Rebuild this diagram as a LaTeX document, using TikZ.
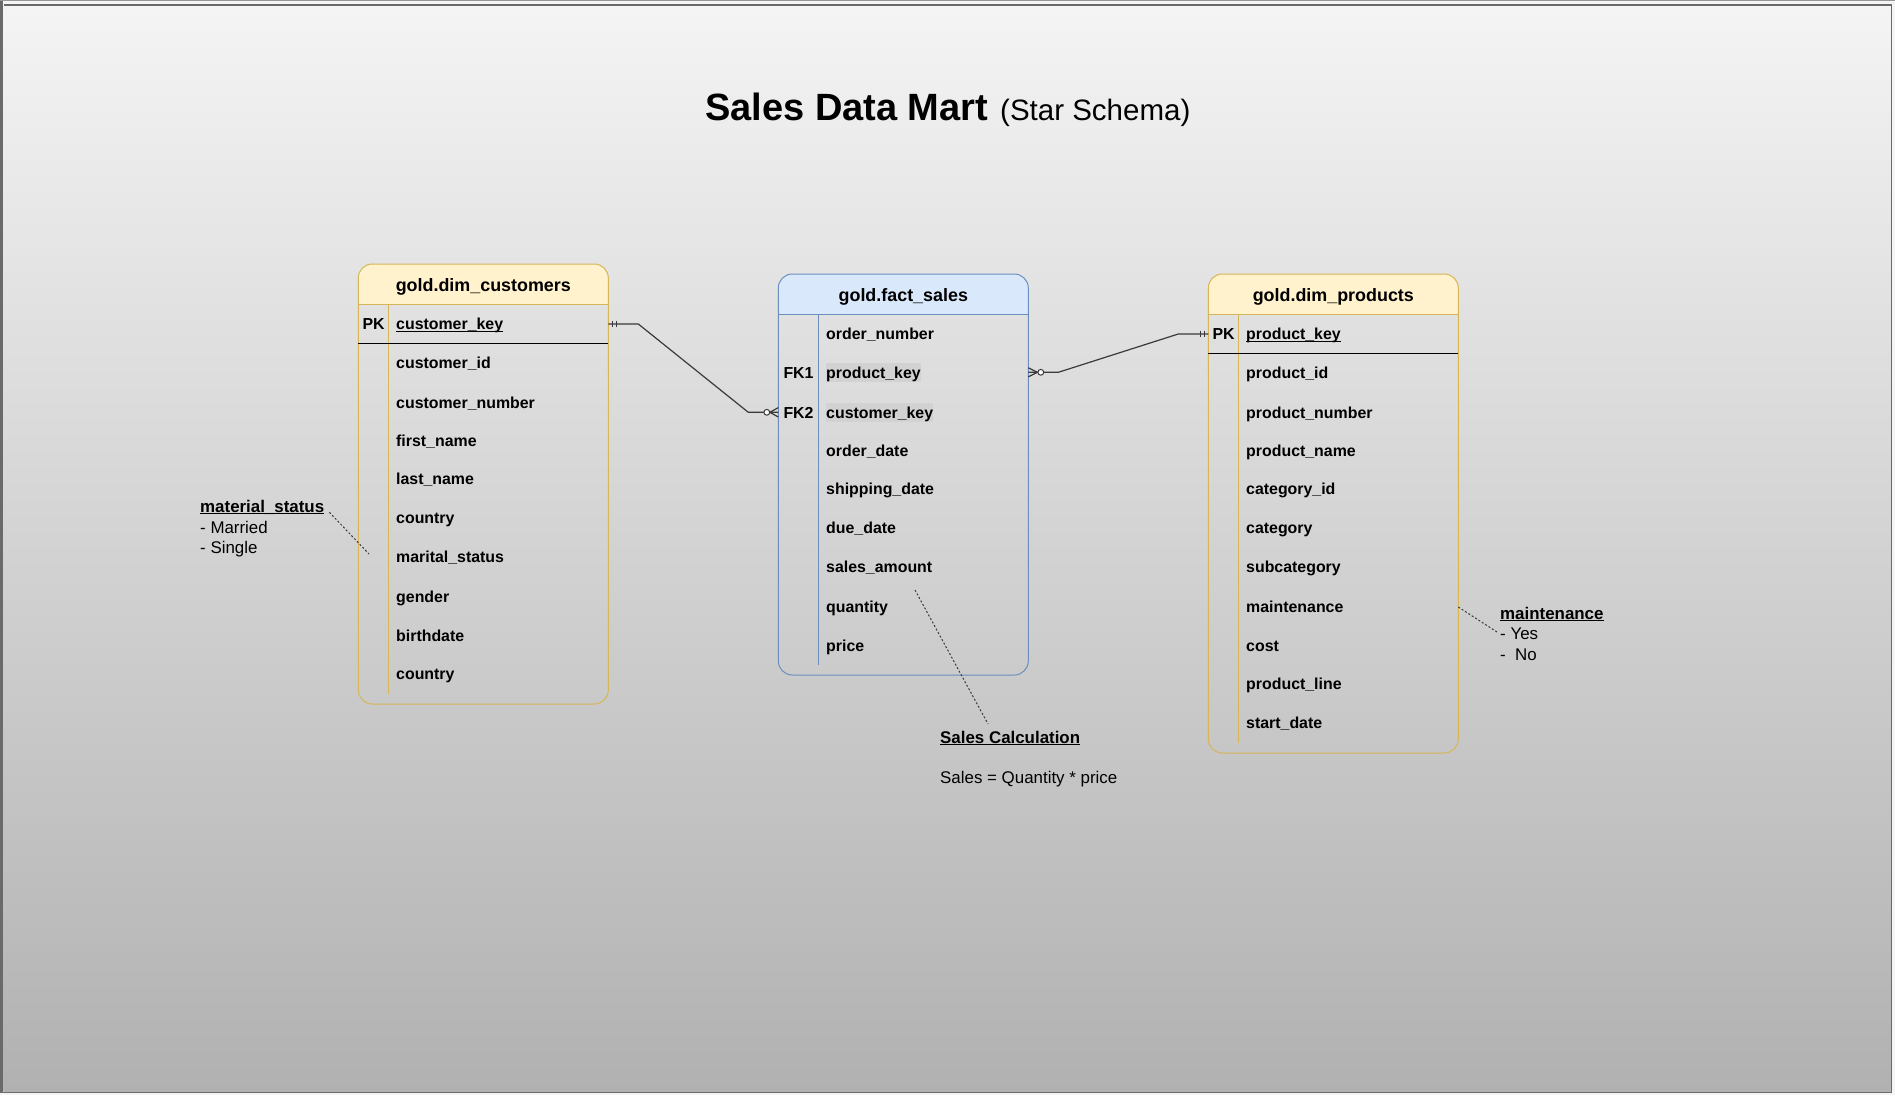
\documentclass[tikz,border=0pt]{standalone}
\usepackage{fontspec}
\setmainfont{Liberation Sans}
\usetikzlibrary{calc}
\definecolor{ybord}{HTML}{D6B656}
\definecolor{yfill}{HTML}{FFF2CC}
\definecolor{bbord}{HTML}{6C8EBF}
\definecolor{bfill}{HTML}{DAE8FC}
\definecolor{hlgray}{HTML}{D2D2D2}
\definecolor{conncol}{HTML}{3A3A3A}
\definecolor{bgtop}{HTML}{F4F4F4}
\definecolor{bgbot}{HTML}{B1B1B1}
\definecolor{frameg}{HTML}{6A6A6A}
\newcommand\ulin[1]{\setbox0\hbox{#1}\rlap{\rule[-1.8pt]{\wd0}{1pt}}\box0}
\tikzset{
  field/.style={anchor=base west, inner sep=0pt, font={\fontsize{15.9}{19}\selectfont\bfseries}, text=black},
  hlfield/.style={field, fill=hlgray, text height=14.7pt, text depth=3.7pt},
  hdrtext/.style={anchor=base, inner sep=0pt, font={\fontsize{17.9}{21}\selectfont\bfseries}, text=black},
  notetext/.style={anchor=base west, inner sep=0pt, font={\fontsize{16.9}{20}\selectfont}, text=black},
  notebold/.style={notetext, font={\fontsize{16.9}{20}\selectfont\bfseries}},
  tbl/.style={draw, line width=1pt, rounded corners=14pt, minimum width=250pt, inner sep=0pt, outer sep=0pt},
  connline/.style={draw=conncol, line width=1.2pt},
  dotline/.style={draw=conncol, line width=1pt, dash pattern=on 2pt off 2pt},
  sepline/.style={draw=black, line width=1pt}
}
\begin{document}
\begin{tikzpicture}[x=1pt,y=-1pt]
\useasboundingbox (0,0) rectangle (1895,1095);
% background and frame
\fill[white!96!black] (0,0) rectangle (1895,1095);
\shade[top color=bgtop, bottom color=bgbot] (3.7,5.7) rectangle (1891,1091.7);
\fill[frameg] (0,0) rectangle (2.7,1093);
\fill[frameg] (3.7,4.4) rectangle (1892.3,5.7);
\fill[frameg] (1891,4.4) rectangle (1892.3,1093);
\fill[frameg] (2.7,1091.7) rectangle (1892.3,1093);
\fill[frameg!70] (0,0) rectangle (1895,1);

% title
\node[anchor=base west, inner sep=0pt, font={\fontsize{38}{44}\selectfont\bfseries}] (title) at (705,120) {Sales Data Mart};
\node[anchor=base west, inner sep=0pt, font={\fontsize{29.5}{34}\selectfont}] (subtitle) at (1000,120) {(Star Schema)};

% ---------- customers table ----------
\fill[yfill, rounded corners=14pt] (358.3,304.3) -- (358.3,264) -- (608.3,264) -- (608.3,304.3);
\node[tbl, draw=ybord, minimum height=440pt] (cust) at (483.3,484) {};
\draw[ybord, line width=1pt] (358.3,304.3) -- (608.3,304.3);
\draw[ybord, line width=1pt] (388.3,304.3) -- (388.3,694);
\draw[sepline] (358.3,343.3) -- (608.3,343.3);
\node[hdrtext] (custhdr) at (483.3,291.4) {gold.dim\_customers};
\node[field] (cpk) at (362.3,329.7) {PK};
\node[field] (c1) at (396,329.7) {\ulin{customer\_key}};
\node[field] (c2) at (396,368) {customer\_id};
\node[field] (c3) at (396,408) {customer\_number};
\node[field] (c4) at (396,446.7) {first\_name};
\node[field] (c5) at (396,484.7) {last\_name};
\node[field] (c6) at (396,523.7) {country};
\node[field] (c7) at (396,562.7) {marital\_status};
\node[field] (c8) at (396,602.7) {gender};
\node[field] (c9) at (396,641.7) {birthdate};
\node[field] (c10) at (396,679.7) {country};

% ---------- fact table ----------
\fill[bfill, rounded corners=14pt] (778.3,314.3) -- (778.3,274) -- (1028.3,274) -- (1028.3,314.3);
\node[tbl, draw=bbord, minimum height=401pt] (fact) at (903.3,474.5) {};
\draw[bbord, line width=1pt] (778.3,314.3) -- (1028.3,314.3);
\draw[bbord, line width=1pt] (818.3,314.3) -- (818.3,665);
\node[hdrtext] (facthdr) at (903.3,301.4) {gold.fact\_sales};
\node[field] (f1) at (826,339.7) {order\_number};
\node[field] (ffk1) at (783.3,378) {FK1};
\node[hlfield] (f2) at (826,378) {product\_key};
\node[field] (ffk2) at (783.3,418) {FK2};
\node[hlfield] (f3) at (826,418) {customer\_key};
\node[field] (f4) at (826,456.7) {order\_date};
\node[field] (f5) at (826,494.7) {shipping\_date};
\node[field] (f6) at (826,533.7) {due\_date};
\node[field] (f7) at (826,572.7) {sales\_amount};
\node[field] (f8) at (826,612.7) {quantity};
\node[field] (f9) at (826,651.7) {price};

% ---------- products table ----------
\fill[yfill, rounded corners=14pt] (1208.3,314.3) -- (1208.3,274) -- (1458.3,274) -- (1458.3,314.3);
\node[tbl, draw=ybord, minimum height=479pt] (prod) at (1333.3,513.5) {};
\draw[ybord, line width=1pt] (1208.3,314.3) -- (1458.3,314.3);
\draw[ybord, line width=1pt] (1238.3,314.3) -- (1238.3,743);
\draw[sepline] (1208.3,353.3) -- (1458.3,353.3);
\node[hdrtext] (prodhdr) at (1333.3,301.4) {gold.dim\_products};
\node[field] (ppk) at (1212.3,339.7) {PK};
\node[field] (p1) at (1246,339.7) {\ulin{product\_key}};
\node[field] (p2) at (1246,378) {product\_id};
\node[field] (p3) at (1246,418) {product\_number};
\node[field] (p4) at (1246,456.7) {product\_name};
\node[field] (p5) at (1246,494.7) {category\_id};
\node[field] (p6) at (1246,533.7) {category};
\node[field] (p7) at (1246,572.7) {subcategory};
\node[field] (p8) at (1246,612.7) {maintenance};
\node[field] (p9) at (1246,651.7) {cost};
\node[field] (p10) at (1246,689.7) {product\_line};
\node[field] (p11) at (1246,728.7) {start\_date};

% ---------- relationships ----------
\coordinate (e1) at ($(cust.east |- c1.base)+(0,-5.7)$);
\coordinate (e2) at ($(fact.west |- f3.base)+(0,-5.7)$);
\draw[connline] (e1) -- ++(30,0) -- ($(e2)+(-30,0)$) -- (e2);
\draw[connline] ($(e1)+(4.4,-3.4)$) -- ++(0,6.8);
\draw[connline] ($(e1)+(8,-3.4)$) -- ++(0,6.8);
\draw[connline] ($(e2)+(-8.5,0)$) -- ($(e2)+(0,-4.7)$);
\draw[connline] ($(e2)+(-8.5,0)$) -- ($(e2)+(0,4.7)$);
\draw[connline, fill=white, line width=1pt] ($(e2)+(-11.5,0)$) circle (2.9);

\coordinate (e3) at ($(fact.east |- f2.base)+(0,-5.7)$);
\coordinate (e4) at ($(prod.west |- p1.base)+(0,-5.7)$);
\draw[connline] (e3) -- ++(30,0) -- ($(e4)+(-30,0)$) -- (e4);
\draw[connline] ($(e3)+(0,-4.5)$) -- ($(e3)+(9,0)$);
\draw[connline] ($(e3)+(0,4.5)$) -- ($(e3)+(9,0)$);
\draw[connline, fill=white, line width=1pt] ($(e3)+(12.5,0)$) circle (2.9);
\draw[connline] ($(e4)+(-7.6,-3.4)$) -- ++(0,6.8);
\draw[connline] ($(e4)+(-3.8,-3.4)$) -- ++(0,6.8);

% ---------- notes ----------
\node[notebold] (ms) at (200,512.3) {\ulin{material\_status}};
\node[notetext] (ms1) at (200,533.3) {- Married};
\node[notetext] (ms2) at (200,553.5) {- Single};
\coordinate (msend) at (369,554);
\draw[dotline] ($(ms.base east)+(5,0)$) -- (msend);

\node[notebold] (mt) at (1500,619.3) {\ulin{maintenance}};
\node[notetext] (mt1) at (1500,639.3) {- Yes};
\node[notetext] (mt2) at (1500,660) {-\ \ No};
\coordinate (mtstart) at ($(prod.east |- p8.base)+(0,-5.7)$);
\coordinate (mtend) at (1497,632);
\draw[dotline] (mtstart) -- (mtend);

\node[notebold] (sc) at (940,743) {\ulin{Sales Calculation}};
\node[notetext] (sc1) at (940,783) {Sales = Quantity * price};
\coordinate (scstart) at (915,590);
\coordinate (scend) at (988,724);
\draw[dotline] (scstart) -- (scend);
\end{tikzpicture}
\end{document}
